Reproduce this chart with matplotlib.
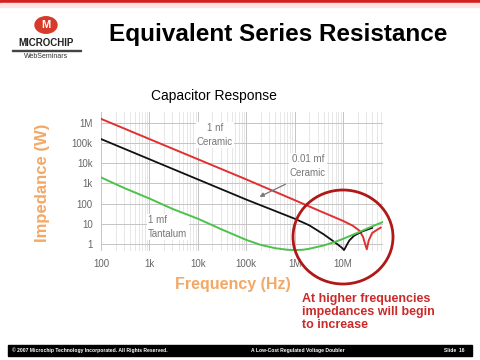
import matplotlib
matplotlib.use("Agg")
import matplotlib.pyplot as plt
from matplotlib.patches import Ellipse, Rectangle, FancyArrowPatch, Circle

plt.rcParams['font.family'] = ['Liberation Sans', 'DejaVu Sans']

# impedance curves (Hz, ohms)
freq_red = [1e2, 1e3, 1e4, 1e5, 1e6, 3e6, 1e7, 1.6e7, 2.2e7, 2.6e7, 2.9e7, 3.1e7, 3.4e7, 4e7, 5e7, 6e7]
z_red = [1.6e6, 1.6e5, 1.6e4, 1.6e3, 150, 48, 14, 8, 4.5, 2.2, 0.9, 0.55, 1.5, 3.5, 5.0, 6.5]

freq_black = [1e2, 1e3, 1e4, 1e5, 1e6, 2e6, 4e6, 6e6, 8e6, 9.5e6, 1.05e7, 1.15e7, 1.35e7, 1.7e7, 2.5e7, 4e7]
z_black = [1.6e5, 1.6e4, 1.6e3, 160, 18, 8.5, 3.0, 1.5, 0.9, 0.65, 0.5, 0.75, 1.5, 2.6, 4.2, 6.3]

freq_green = [1e2, 3e2, 1e3, 3e3, 1e4, 3e4, 1e5, 2e5, 4e5, 7e5, 1e6, 1.5e6, 2e6, 4e6, 7e6, 1e7, 2e7, 4e7, 6.5e7]
z_green = [2000, 600, 180, 55, 18, 5.5, 1.6, 0.9, 0.62, 0.52, 0.5, 0.52, 0.58, 0.85, 1.3, 1.8, 3.6, 7.5, 12]

xticks = [1e2, 1e3, 1e4, 1e5, 1e6, 1e7]
xlabels = ['100', '1k', '10k', '100k', '1M', '10M']
yticks = [1, 10, 100, 1e3, 1e4, 1e5, 1e6]
ylabels = ['1', '10', '100', '1k', '10k', '100k', '1M']

W, H = 480, 360
fig = plt.figure(figsize=(4.8, 3.6), dpi=100)

def fx(px):
    return px / W

def fy(py):
    return 1 - py / H

# slide decoration
fig.patches.append(Rectangle((0, fy(3)), 1, 3 / H, transform=fig.transFigure, color='#d42020', zorder=0))
fig.patches.append(Rectangle((0, fy(7)), 1, 4 / H, transform=fig.transFigure, color='#fbe3e3', zorder=0))
fig.patches.append(Rectangle((fx(8), fy(356)), fx(464), 11 / H, transform=fig.transFigure, color='black', zorder=0))
fig.text(fx(12), fy(350.5), '© 2007 Microchip Technology Incorporated. All Rights Reserved.',
         color='white', fontsize=3.6, fontweight='bold', va='center')
fig.text(fx(298), fy(350.5), 'A Low-Cost Regulated Voltage Doubler',
         color='white', fontsize=3.6, fontweight='bold', va='center', ha='center')
fig.text(fx(465), fy(350.5), 'Slide  16', color='white', fontsize=3.6, fontweight='bold', va='center', ha='right')

# logo
fig.patches.append(Circle((fx(46), fy(25)), 11 / W, transform=fig.transFigure, color='#d63a2a', zorder=1))
fig.text(fx(46), fy(25), 'M', color='white', fontsize=8, fontweight='bold', ha='center', va='center')
fig.text(fx(46), fy(43), 'MICROCHIP', fontsize=7, fontweight='bold', ha='center', va='center', color='#222')
fig.patches.append(Rectangle((fx(12), fy(51)), fx(69), 0.8 / H, transform=fig.transFigure, color='#444'))
fig.text(fx(46), fy(57), 'WebSeminars', fontsize=5, ha='center', va='center', color='#333')

fig.text(fx(278), fy(35), 'Equivalent Series Resistance', fontsize=17.5, fontweight='bold', ha='center', va='center')
fig.text(fx(214), fy(96), 'Capacitor Response', fontsize=10, ha='center', va='center')

# chart
ax = fig.add_axes([fx(101), fy(251), 282 / W, 139 / H])
ax.set_xscale('log')
ax.set_yscale('log')
ax.plot(freq_red, z_red, color='#e03030', lw=1.4, zorder=3)
ax.plot(freq_black, z_black, color='#111111', lw=1.3, zorder=3)
ax.plot(freq_green, z_green, color='#4cc24c', lw=1.4, zorder=3)
ax.set_xlim(100, 6.7e7)
ax.set_ylim(0.45, 3.5e6)
ax.set_xticks(xticks)
ax.set_xticklabels(xlabels)
ax.set_yticks(yticks)
ax.set_yticklabels(ylabels)
ax.tick_params(which='both', length=0, labelsize=7, colors='#666666', pad=6)
ax.grid(True, which='major', color='#c4c4c4', lw=0.7)
ax.grid(True, which='minor', axis='x', color='#dddddd', lw=0.5)
for s in ax.spines.values():
    s.set_visible(False)

box = dict(facecolor='white', edgecolor='none', pad=1)
ax.text(fx(215), fy(135), '1 nf\nCeramic', fontsize=7, color='#777777', ha='center', va='center',
        linespacing=1.5, bbox=box, transform=fig.transFigure, zorder=2)
ax.text(fx(308), fy(166), '0.01 mf\nCeramic', fontsize=7, color='#777777', ha='center', va='center',
        linespacing=1.5, bbox=box, transform=fig.transFigure, zorder=2)
ax.text(fx(148), fy(227), '1 mf\nTantalum', fontsize=7, color='#777777', ha='left', va='center',
        linespacing=1.5, bbox=box, transform=fig.transFigure, zorder=2)
fig.patches.append(FancyArrowPatch((fx(288), fy(183)), (fx(257), fy(198)), transform=fig.transFigure,
                                   arrowstyle='-|>', mutation_scale=6, color='#777777', lw=0.9))

fig.patches.append(Ellipse((fx(343), fy(237)), 100 / W, 94 / H, transform=fig.transFigure,
                           fill=False, edgecolor='#b01818', lw=2, zorder=5))

fig.text(fx(233), fy(285), 'Frequency (Hz)', fontsize=11.5, fontweight='bold', color='#f3a865',
         ha='center', va='center')
fig.text(fx(43), fy(183), 'Impedance (W)', fontsize=12, fontweight='bold', color='#f3a865',
         ha='center', va='center', rotation=90)
fig.text(fx(302), fy(312), 'At higher frequencies\nimpedances will begin\nto increase', fontsize=9,
         fontweight='bold', color='#cc2a2a', ha='left', va='center', linespacing=1.15)

fig.savefig('out.png', dpi=100)
